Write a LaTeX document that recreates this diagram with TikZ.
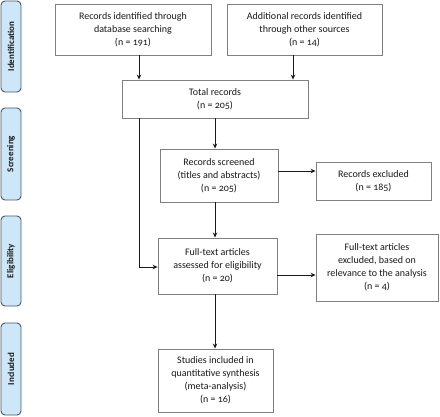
\documentclass[tikz,border=0pt]{standalone}
\usepackage{fontspec}
\setmainfont{Carlito}[Numbers=OldStyle]
\usetikzlibrary{arrows.meta}
\definecolor{sidefill}{HTML}{CDE6F8}
\definecolor{sideline}{HTML}{4A5866}
\definecolor{boxline}{HTML}{7F7F7F}
\tikzset{
  box/.style={draw=boxline, line width=0.9pt, fill=white, align=center, inner sep=2pt,
    font=\fontsize{10}{13}\selectfont, text=black!90},
  side/.style={draw=sideline, line width=0.9pt, fill=sidefill, rounded corners=4pt,
    minimum width=20pt, inner sep=0pt},
  sidelabel/.style={rotate=90, font=\fontsize{9}{10}\selectfont\bfseries, text=black!90},
  arr/.style={draw=black!90, line width=0.8pt, -{Stealth[length=5pt,width=4.5pt]}},
}
\begin{document}
\begin{tikzpicture}[x=1pt,y=-1pt]
\useasboundingbox (0,0) rectangle (440,416);
% side bars
\node[side, minimum height=91pt] (s1) at (11,46.5) {};
\node[sidelabel] (l1) at (s1) {Identification};
\node[side, minimum height=92pt] (s2) at (11,154) {};
\node[sidelabel] (l2) at (s2) {Screening};
\node[side, minimum height=90pt] (s3) at (11,261) {};
\node[sidelabel] (l3) at (s3) {Eligibility};
\node[side, minimum height=92pt] (s4) at (11,369) {};
\node[sidelabel] (l4) at (s4) {Included};
% boxes
\node[box, minimum width=156pt, minimum height=51pt] (b1) at (133,29.5)
  {Records identified through\\database searching\\(n = 191)};
\node[box, minimum width=155pt, minimum height=51pt] (b2) at (304.5,29.5)
  {Additional records identified\\through other sources\\(n = 14)};
\node[box, minimum width=186pt, minimum height=38pt] (tot) at (215,99)
  {Total records\\(n = 205)};
\node[box, minimum width=118pt, minimum height=53pt] (scr) at (219,175.5)
  {Records screened\\(titles and abstracts)\\(n = 205)};
\node[box, minimum width=115pt, minimum height=38pt] (ex1) at (373.5,181)
  {Records excluded\\(n = 185)};
\node[box, minimum width=119pt, minimum height=56pt] (ft) at (217.5,266)
  {Full-text articles\\assessed for eligibility\\(n = 20)};
\node[box, minimum width=122pt, minimum height=67pt] (ex2) at (377,267.5)
  {Full-text articles\\excluded, based on\\relevance to the analysis\\(n = 4)};
\node[box, minimum width=115pt, minimum height=63pt] (inc) at (215.5,380.5)
  {Studies included in\\quantitative synthesis\\(meta-analysis)\\(n = 16)};
% x positions of connectors
\coordinate (xa) at (139,0);
\coordinate (xb) at (293,0);
\coordinate (xc) at (215,0);
\coordinate (ya) at (0,171);
\coordinate (yb) at (0,275);
\coordinate (turn) at (139,267);
% connectors
\draw[arr] (b1.south -| xa) -- (tot.north -| xa);
\draw[arr] (b2.south -| xb) -- (tot.north -| xb);
\draw[arr] (tot.south -| xc) -- (scr.north -| xc);
\draw[arr] (scr.south -| xc) -- (ft.north -| xc);
\draw[arr] (ft.south -| xc) -- (inc.north -| xc);
\draw[arr] (scr.east |- ya) -- (ex1.west |- ya);
\draw[arr] (ft.east |- yb) -- (ex2.west |- yb);
\draw[arr] (tot.south -| xa) -- (turn) -- (ft.west |- turn);
\end{tikzpicture}
\end{document}
